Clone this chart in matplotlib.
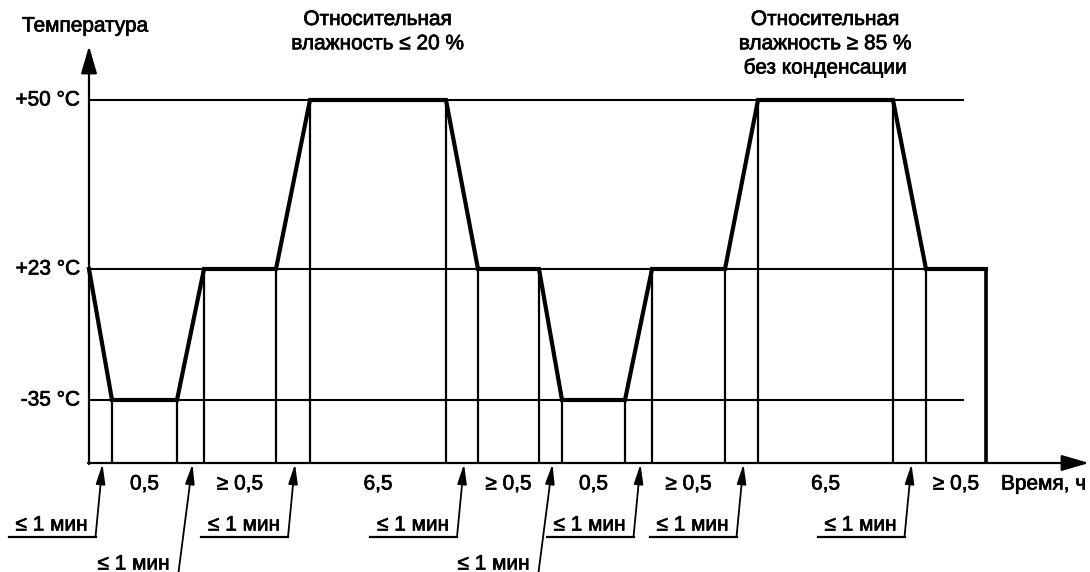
import matplotlib
matplotlib.use('Agg')
import matplotlib.pyplot as plt
import matplotlib.patheffects as pe

plt.rcParams['font.family'] = ['Liberation Sans', 'DejaVu Sans']

# температурные уровни (снизу вверх)
temp_labels = ['-35 °C', '+23 °C', '+50 °C']
# точки излома профиля (условная шкала времени) и уровень в каждой точке
profile_x = [89, 112, 177, 204, 276, 310, 446, 478, 539, 562, 625, 652, 725, 758, 893, 926, 986]
profile_lvl = [1, 0, 0, 1, 1, 2, 2, 1, 1, 0, 0, 1, 1, 2, 2, 1, 1]
# длительности выдержек, ч
hold_labels = ['0,5', '≥ 0,5', '6,5', '≥ 0,5', '0,5', '≥ 0,5', '6,5', '≥ 0,5']
ramp_label = '≤ 1 мин'
ramp_row = [0, 1, 0, 0, 1, 0, 0, 0]
humidity_notes = ['Относительная\nвлажность ≤ 20 %',
                  'Относительная\nвлажность ≥ 85 %\nбез конденсации']

# раскладка схемы
level_y = [400, 269, 100]
axis_y = 463
axis_x = profile_x[0]
line_end = 964
fs = 15
# чуть утолщённый шрифт, как на оригинале
txt = dict(fontsize=fs, path_effects=[pe.withStroke(linewidth=0.5, foreground='k')])

fig = plt.figure(figsize=(10.9, 5.72), dpi=100)
ax = fig.add_axes([0, 0, 1, 1])
ax.set_xlim(0, 1090)
ax.set_ylim(572, 0)
ax.axis('off')

# горизонтальные линии уровней
for lab, y in zip(temp_labels, level_y):
    ax.plot([axis_x, line_end], [y, y], color='k', lw=1.5, solid_capstyle='butt')
    ax.text(80, y, lab, ha='right', va='center', **txt)

# вертикальные линии от оси времени до профиля
for i, (x, lv) in enumerate(zip(profile_x, profile_lvl)):
    if i == 0:
        continue
    lw = 2.6 if i == len(profile_x) - 1 else 1.6
    ax.plot([x, x], [axis_y, level_y[lv]], color='k', lw=lw, solid_capstyle='butt')

# профиль температуры
ax.plot(profile_x, [level_y[l] for l in profile_lvl], color='k', lw=3.0,
        solid_joinstyle='miter')

# оси со стрелками
ax.annotate('', xy=(axis_x, 46), xytext=(axis_x, axis_y + 1),
            arrowprops=dict(arrowstyle='-|>,head_length=1.2,head_width=0.35',
                            mutation_scale=14, lw=1.6, color='k', shrinkA=0, shrinkB=0))
ax.annotate('', xy=(1089, axis_y), xytext=(axis_x - 1, axis_y),
            arrowprops=dict(arrowstyle='-|>,head_length=1.2,head_width=0.35',
                            mutation_scale=14, lw=1.6, color='k', shrinkA=0, shrinkB=0))
ax.text(22, 26, 'Температура', ha='left', va='center', **txt)
ax.text(1001, 484, 'Время, ч', ha='left', va='center', **txt)

# длительности выдержек и рампы
holds = [(profile_x[k], profile_x[k + 1]) for k in range(1, len(profile_x) - 1, 2)]
ramps = [(profile_x[k], profile_x[k + 1]) for k in range(0, len(profile_x) - 1, 2)]
for (a, b), lab in zip(holds, hold_labels):
    ax.text((a + b) / 2, 484, lab, ha='center', va='center', **txt)

for (a, b), row in zip(ramps, ramp_row):
    tip = (a + b) / 2 + 2
    if row == 0:
        base_x, base_y = tip - 7, 537
        ax.plot([base_x - 87, base_x], [base_y, base_y], color='k', lw=1.6)
        ax.text(base_x - 80, 525, ramp_label, ha='left', va='center', **txt)
    else:
        base_x, base_y = tip - 15, 580
        ax.text(base_x - 80, 564, ramp_label, ha='left', va='center', **txt)
    ax.annotate('', xy=(tip, axis_y + 1), xytext=(base_x, base_y),
                arrowprops=dict(arrowstyle='-|>,head_length=0.85,head_width=0.2',
                                mutation_scale=14, lw=1.3, color='k',
                                shrinkA=0, shrinkB=0))

# примечания о влажности над выдержками при +50 °C
tops = [h for h, k in zip(holds, range(len(holds))) if profile_lvl[2 * k + 1] == 2]
for (a, b), note in zip(tops, humidity_notes):
    ax.text((a + b) / 2, 10, note, ha='center', va='top', linespacing=1.35, **txt)

fig.savefig('out.png', dpi=100)
